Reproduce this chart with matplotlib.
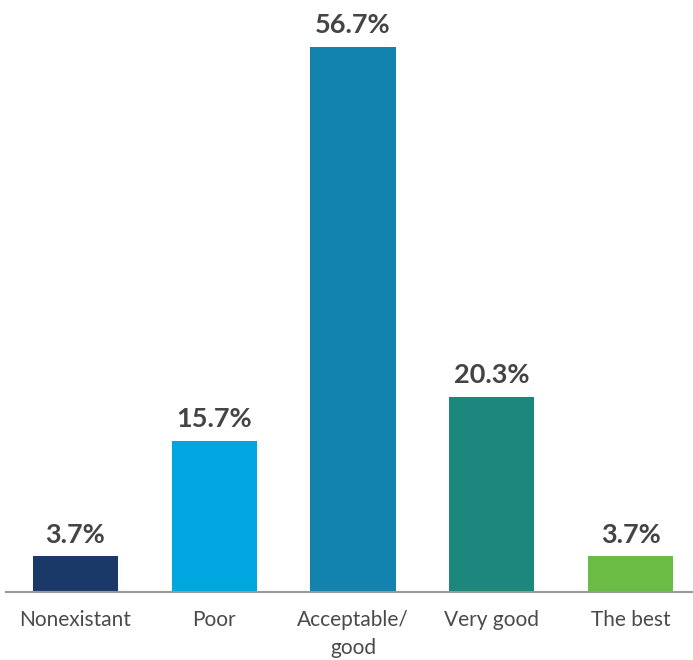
import matplotlib.pyplot as plt

categories = ["Nonexistant", "Poor", "Acceptable/\ngood", "Very good", "The best"]
values = [3.7, 15.7, 56.7, 20.3, 3.7]
colors = ["#1a3868", "#00a6df", "#1283ae", "#1b877d", "#6abc45"]

plt.rcParams['font.family'] = ['Lato', 'DejaVu Sans']

fig = plt.figure(figsize=(6.93, 6.60), dpi=100)
ax = fig.add_axes([6 / 693, 0.103, 687 / 693, 0.874])

x = range(len(values))
bars = ax.bar(x, values, width=0.613, color=colors)

for xi, v in zip(x, values):
    ax.annotate(f"{v}%", (xi, v), xytext=(0, 7), textcoords="offset points",
                ha="center", va="bottom", fontsize=19.5, fontweight="bold",
                color="#444444")

ax.set_xlim(-0.5, 4.45)
ax.set_ylim(0, 60)
ax.set_xticks(list(x))
ax.set_xticklabels(categories, fontsize=15, color="#4a4a4a",
                   fontweight="normal", linespacing=1.5)
ax.tick_params(axis="x", length=0, pad=13)
ax.set_yticks([])
for side in ["top", "right", "left"]:
    ax.spines[side].set_visible(False)
ax.spines["bottom"].set_color("#999999")
ax.spines["bottom"].set_linewidth(1.5)

fig.savefig("out.png", dpi=100)
